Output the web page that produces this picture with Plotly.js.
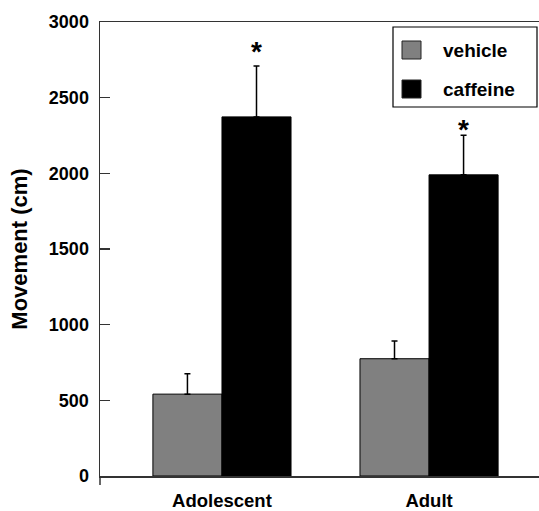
<!DOCTYPE html>
<html>
<head>
<meta charset="utf-8">
<script src="https://cdn.plot.ly/plotly-3.0.1.min.js"></script>
<style>
html,body{margin:0;padding:0;overflow:hidden;background:#fff;}
#chart{width:539px;height:511px;}
</style>
</head>
<body>
<div id="chart"></div>
<script>
var categories = ["Adolescent", "Adult"];
var seriesNames = ["vehicle", "caffeine"];
var seriesColors = ["#808080", "#000000"];
var vehicleMean = [541, 775];
var vehicleSE = [135, 117];
var caffeineMean = [2373, 1990];
var caffeineSE = [337, 262];
var significant = ["*", "*"];
var yTicks = [0, 500, 1000, 1500, 2000, 2500, 3000];

var font = "Liberation Sans, Arial, sans-serif";
var W = 539, H = 511, ML = 100, MR = 0, MT = 22, MB = 35;
var PW = W - ML - MR, PH = H - MT - MB;
function px(x) { return (x - ML) / PW; }
function py(y) { return (H - MB - y) / PH; }

var means = [vehicleMean, caffeineMean];
var ses = [vehicleSE, caffeineSE];

var traces = seriesNames.map(function (n, k) {
  return {
    type: "bar", name: n, x: categories, y: means[k],
    marker: {color: seriesColors[k], line: {color: "#000", width: 1}},
    error_y: {type: "data", array: ses[k], arrayminus: [0, 0], symmetric: false,
              color: "#000", thickness: 1.5, width: 3},
    showlegend: false
  };
});

var starShift = [14, 6];
var annotations = categories.map(function (c, i) {
  return {
    x: i + 1/6, y: caffeineMean[i] + caffeineSE[i], xref: "x", yref: "y",
    text: "<b>" + significant[i] + "</b>", showarrow: false,
    yanchor: "middle", yshift: starShift[i],
    font: {family: font, size: 28, color: "#000"}
  };
});

// custom legend
var shapes = [
  {type: "rect", xref: "paper", yref: "paper", x0: px(393), x1: px(537), y0: py(107), y1: py(27),
   line: {color: "#000", width: 1.2}, fillcolor: "#fff", layer: "above"},
  {type: "line", xref: "paper", yref: "paper", x0: 0, x1: 0, y0: 0, y1: -9 / PH,
   line: {color: "#333", width: 1.5}}
];
var swTop = [41, 80];
seriesNames.forEach(function (n, k) {
  shapes.push({type: "rect", xref: "paper", yref: "paper",
    x0: px(402), x1: px(421), y0: py(swTop[k] + 18), y1: py(swTop[k]),
    line: {color: "#222", width: 1}, fillcolor: seriesColors[k], layer: "above"});
  annotations.push({xref: "paper", yref: "paper", x: px(441), y: py(swTop[k] + 9),
    xanchor: "left", yanchor: "middle", showarrow: false,
    text: "<b>" + n + "</b>", font: {family: font, size: 19, color: "#000"}});
});

var layout = {
  width: W, height: H,
  margin: {l: ML, r: MR, t: MT, b: MB},
  paper_bgcolor: "#fff", plot_bgcolor: "#fff",
  barmode: "group", bargap: 0.333, bargroupgap: 0,
  showlegend: false,
  xaxis: {
    type: "category", range: [-0.589, 1.531],
    showline: true, linecolor: "#333", linewidth: 1.5, mirror: true,
    ticks: "", showgrid: false, zeroline: false,
    tickfont: {family: font, size: 18.5, color: "#000", weight: "bold"},
    ticklabelstandoff: 7
  },
  yaxis: {
    range: [0, 3000], tickvals: yTicks, ticktext: yTicks.map(String),
    showline: true, linecolor: "#333", linewidth: 1.5,
    ticks: "inside", ticklen: 10, tickcolor: "#333", tickwidth: 1.2,
    showgrid: false, zeroline: false,
    tickfont: {family: font, size: 18, color: "#000", weight: "bold"},
    ticklabelstandoff: 6,
    title: {text: "Movement (cm)", standoff: 15,
            font: {family: font, size: 22, color: "#000", weight: "bold"}}
  },
  shapes: shapes,
  annotations: annotations
};

Plotly.newPlot("chart", traces, layout, {displayModeBar: false, staticPlot: true});
</script>
</body>
</html>
